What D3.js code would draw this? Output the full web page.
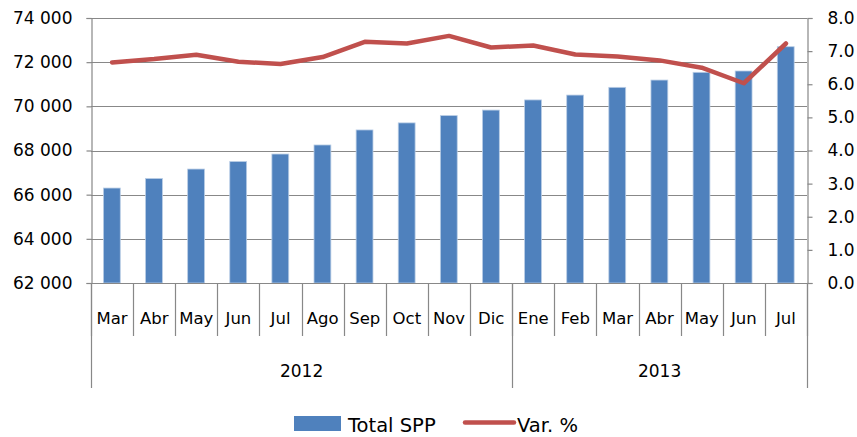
<!DOCTYPE html>
<html>
<head>
<meta charset="utf-8">
<script src="https://cdn.jsdelivr.net/npm/d3@7"></script>
<style>
  body { margin: 0; background: #fff; }
  svg text { font-family: "DejaVu Sans", sans-serif; fill: #000; }
</style>
</head>
<body>
<svg id="chart" width="857" height="437"></svg>
<script>
// data
var months = ["Mar","Abr","May","Jun","Jul","Ago","Sep","Oct","Nov","Dic","Ene","Feb","Mar","Abr","May","Jun","Jul"];
var years = [{ label: "2012", count: 10 }, { label: "2013", count: 7 }];
var totalSPP = [66300, 66730, 67160, 67500, 67840, 68250, 68930, 69250, 69580, 69830, 70290, 70510, 70860, 71190, 71540, 71600, 72700];
var varPct = [6.66, 6.76, 6.89, 6.68, 6.61, 6.82, 7.28, 7.23, 7.46, 7.11, 7.17, 6.90, 6.84, 6.72, 6.50, 6.03, 7.23];
var leftTicks = [62000, 64000, 66000, 68000, 70000, 72000, 74000];
var rightTicks = [0, 1, 2, 3, 4, 5, 6, 7, 8];

var svg = d3.select("#chart");
var plotL = 91, plotR = 807, plotT = 18, plotB = 283;
var grey = "#888888";

var idx = d3.range(months.length);
var x = d3.scaleBand().domain(idx).range([plotL, plotR]).padding(0);
var y = d3.scaleLinear().domain([62000, 74000]).range([plotB, plotT]);
var y2 = d3.scaleLinear().domain([0, 8]).range([plotB, plotT]);
var bw = x.bandwidth();

var fmt = function (v) { return d3.format(",")(v).replace(",", " "); };

// gridlines
svg.append("g").selectAll("line").data(leftTicks).join("line")
  .attr("x1", plotL).attr("x2", plotR)
  .attr("y1", function (d) { return Math.round(y(d)) + 0.5; })
  .attr("y2", function (d) { return Math.round(y(d)) + 0.5; })
  .attr("stroke", grey).attr("stroke-width", 1.2);

// left axis
var la = svg.append("g").attr("transform", "translate(" + (plotL + 0.5) + ",0)")
  .call(d3.axisLeft(y).tickValues(leftTicks).tickFormat(fmt).tickSize(5).tickPadding(14));
la.selectAll("path, line").attr("stroke", grey).attr("stroke-width", 1.2);
la.selectAll("text").style("font-size", "17px").attr("fill", "#000");

// right axis
var ra = svg.append("g").attr("transform", "translate(" + (plotR + 0.5) + ",0)")
  .call(d3.axisRight(y2).tickValues(rightTicks).tickFormat(d3.format(".1f")).tickSize(5).tickPadding(15));
ra.selectAll("path, line").attr("stroke", grey).attr("stroke-width", 1.2);
ra.selectAll("text").style("font-size", "17px").attr("fill", "#000");

// bars
svg.append("g").selectAll("rect").data(totalSPP).join("rect")
  .attr("x", function (d, i) { return x(i) + bw * 0.295; })
  .attr("width", bw * 0.4)
  .attr("y", function (d) { return y(d); })
  .attr("height", function (d) { return plotB - y(d); })
  .attr("fill", "#4F81BD")
  .attr("stroke", "#B9CDE5").attr("stroke-width", 0.8);

// line
var line = d3.line()
  .x(function (d, i) { return x(i) + bw / 2; })
  .y(function (d) { return y2(d); });
svg.append("path").datum(varPct)
  .attr("d", line)
  .attr("fill", "none")
  .attr("stroke", "#C0504D")
  .attr("stroke-width", 4.5)
  .attr("stroke-linejoin", "round")
  .attr("stroke-linecap", "round");

// category axis: month separators
var xa = svg.append("g");
xa.append("line").attr("x1", plotL).attr("x2", plotR)
  .attr("y1", plotB + 0.5).attr("y2", plotB + 0.5)
  .attr("stroke", grey).attr("stroke-width", 1.2);
xa.selectAll(".sep").data(d3.range(months.length + 1)).join("line")
  .attr("class", "sep")
  .attr("x1", function (d) { return Math.round(plotL + d * bw) + 0.5; })
  .attr("x2", function (d) { return Math.round(plotL + d * bw) + 0.5; })
  .attr("y1", plotB).attr("y2", 336)
  .attr("stroke", grey).attr("stroke-width", 1.2);
xa.selectAll(".mon").data(months).join("text")
  .attr("class", "mon")
  .attr("x", function (d, i) { return x(i) + bw / 2; })
  .attr("y", 324)
  .attr("text-anchor", "middle")
  .style("font-size", "16.5px")
  .text(function (d) { return d; });

// year groups
var start = 0;
years.forEach(function (yr) {
  var x0 = plotL + start * bw, x1 = plotL + (start + yr.count) * bw;
  xa.append("text")
    .attr("x", (x0 + x1) / 2).attr("y", 377)
    .attr("text-anchor", "middle")
    .style("font-size", "17px")
    .text(yr.label);
  start += yr.count;
});
var bounds = [0];
years.reduce(function (acc, yr) { bounds.push(acc + yr.count); return acc + yr.count; }, 0);
xa.selectAll(".ysep").data(bounds).join("line")
  .attr("class", "ysep")
  .attr("x1", function (d) { return Math.round(plotL + d * bw) + 0.5; })
  .attr("x2", function (d) { return Math.round(plotL + d * bw) + 0.5; })
  .attr("y1", plotB).attr("y2", 388)
  .attr("stroke", grey).attr("stroke-width", 1.2);

// legend
var lg = svg.append("g");
lg.append("rect").attr("x", 294).attr("y", 416).attr("width", 47).attr("height", 15).attr("fill", "#4F81BD");
lg.append("text").attr("x", 348).attr("y", 432).style("font-size", "19.5px").text("Total SPP");
lg.append("line").attr("x1", 465).attr("x2", 514).attr("y1", 422.5).attr("y2", 422.5)
  .attr("stroke", "#C0504D").attr("stroke-width", 4.5).attr("stroke-linecap", "round");
lg.append("text").attr("x", 517).attr("y", 432).style("font-size", "19.5px").text("Var. %");
</script>
</body>
</html>
